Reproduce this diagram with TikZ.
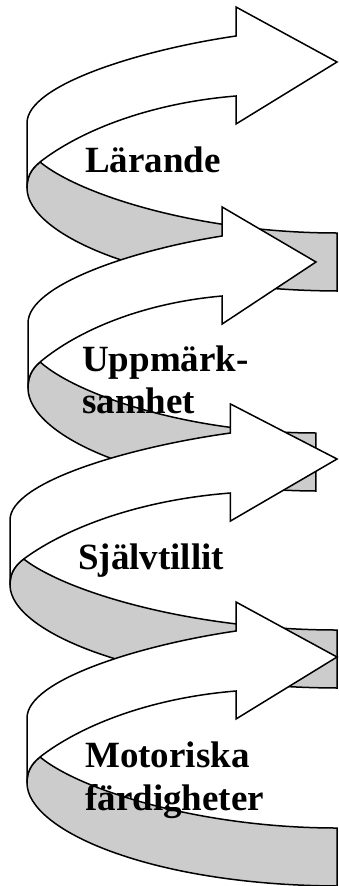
\documentclass[tikz,border=0pt]{standalone}
\usepackage{fontspec}
\setmainfont{Liberation Serif}
\definecolor{bandgrey}{RGB}{204,204,204}
\tikzset{
  ribbon/.style={draw=black, line width=1.5pt, line join=miter},
  backband/.style={ribbon, fill=bandgrey},
  frontband/.style={ribbon, fill=white},
  helixtext/.style={anchor=base west, inner sep=0pt, font=\bfseries\fontsize{37}{43}\selectfont}
}
\begin{document}
\begin{tikzpicture}[x=1pt,y=-1pt]
\useasboundingbox (0,0) rectangle (338,886);
\foreach \sx/\sy/\sc in {27/0/1, 28/200/0.929, 10/397/1.055, 27/595/1} {
  \begin{scope}[shift={(\sx,\sy)}, xscale=\sc]
    % back (grey) side of the ribbon
    \path[backband] (13,162) .. controls (53,195) and (173,233) .. (310,233)
      -- (310,291) .. controls (123,290) and (0,235) .. (0,188)
      .. controls (0,178) and (3,170) .. (13,162) -- cycle;
    % front (white) side with arrow head
    \path[frontband] (209,36) -- (209,7) -- (310,62) -- (209,124) -- (209,96)
      .. controls (123,103) and (53.5,130.5) .. (13,162)
      .. controls (3,170) and (0,178) .. (0,188)
      -- (0,123) .. controls (0,85) and (113,50) .. (209,36) -- cycle;
  \end{scope}
}
\node[helixtext] (t1) at (85,172) {Lärande};
\node[helixtext] (t2a) at (82,371) {Uppmärk-};
\node[helixtext] (t2b) at (82,413) {samhet};
\node[helixtext] (t3) at (78,569) {Självtillit};
\node[helixtext] (t4a) at (85,767) {Motoriska};
\node[helixtext] (t4b) at (85,810) {färdigheter};
\end{tikzpicture}
\end{document}
